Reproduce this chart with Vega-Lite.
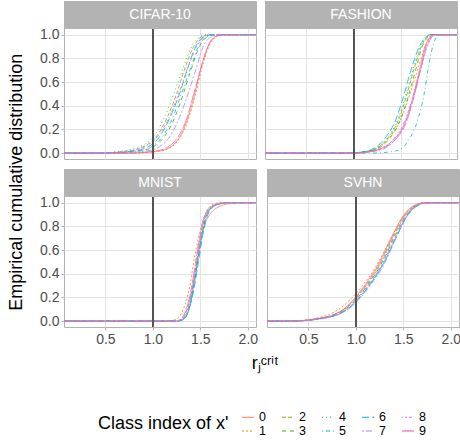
{
"$schema": "https://vega.github.io/schema/vega-lite/v6.json",
"padding": {"left": 8, "top": 0, "right": 0, "bottom": 0},
"title": {"text": "Empirical cumulative distribution", "orient": "left", "anchor": "middle", "fontSize": 18, "fontWeight": "normal", "color": "#000000", "font": "Liberation Sans", "offset": 13, "dx": 37},
"data": {"values": [
{"d":"CIFAR-10","c":"0","r":0,"p":0},{"d":"CIFAR-10","c":"0","r":0.75,"p":0},{"d":"CIFAR-10","c":"0","r":1.08,"p":0.02},{"d":"CIFAR-10","c":"0","r":1.25,"p":0.1},{"d":"CIFAR-10","c":"0","r":1.37,"p":0.3},{"d":"CIFAR-10","c":"0","r":1.44,"p":0.5},{"d":"CIFAR-10","c":"0","r":1.5,"p":0.7},{"d":"CIFAR-10","c":"0","r":1.58,"p":0.9},{"d":"CIFAR-10","c":"0","r":1.65,"p":0.98},{"d":"CIFAR-10","c":"0","r":1.73,"p":1},{"d":"CIFAR-10","c":"0","r":2.2,"p":1},
{"d":"CIFAR-10","c":"1","r":0,"p":0},{"d":"CIFAR-10","c":"1","r":0.78,"p":0},{"d":"CIFAR-10","c":"1","r":1.1,"p":0.02},{"d":"CIFAR-10","c":"1","r":1.26,"p":0.1},{"d":"CIFAR-10","c":"1","r":1.38,"p":0.3},{"d":"CIFAR-10","c":"1","r":1.45,"p":0.5},{"d":"CIFAR-10","c":"1","r":1.51,"p":0.7},{"d":"CIFAR-10","c":"1","r":1.59,"p":0.9},{"d":"CIFAR-10","c":"1","r":1.66,"p":0.98},{"d":"CIFAR-10","c":"1","r":1.74,"p":1},{"d":"CIFAR-10","c":"1","r":2.2,"p":1},
{"d":"CIFAR-10","c":"2","r":0,"p":0},{"d":"CIFAR-10","c":"2","r":0.4,"p":0},{"d":"CIFAR-10","c":"2","r":0.75,"p":0.02},{"d":"CIFAR-10","c":"2","r":0.99,"p":0.1},{"d":"CIFAR-10","c":"2","r":1.15,"p":0.3},{"d":"CIFAR-10","c":"2","r":1.25,"p":0.5},{"d":"CIFAR-10","c":"2","r":1.33,"p":0.7},{"d":"CIFAR-10","c":"2","r":1.43,"p":0.9},{"d":"CIFAR-10","c":"2","r":1.51,"p":0.98},{"d":"CIFAR-10","c":"2","r":1.6,"p":1},{"d":"CIFAR-10","c":"2","r":2.2,"p":1},
{"d":"CIFAR-10","c":"3","r":0,"p":0},{"d":"CIFAR-10","c":"3","r":0.5,"p":0},{"d":"CIFAR-10","c":"3","r":0.88,"p":0.02},{"d":"CIFAR-10","c":"3","r":1.08,"p":0.1},{"d":"CIFAR-10","c":"3","r":1.23,"p":0.3},{"d":"CIFAR-10","c":"3","r":1.32,"p":0.5},{"d":"CIFAR-10","c":"3","r":1.4,"p":0.7},{"d":"CIFAR-10","c":"3","r":1.49,"p":0.9},{"d":"CIFAR-10","c":"3","r":1.57,"p":0.98},{"d":"CIFAR-10","c":"3","r":1.66,"p":1},{"d":"CIFAR-10","c":"3","r":2.2,"p":1},
{"d":"CIFAR-10","c":"4","r":0,"p":0},{"d":"CIFAR-10","c":"4","r":0.35,"p":0},{"d":"CIFAR-10","c":"4","r":0.7,"p":0.02},{"d":"CIFAR-10","c":"4","r":0.96,"p":0.1},{"d":"CIFAR-10","c":"4","r":1.12,"p":0.3},{"d":"CIFAR-10","c":"4","r":1.22,"p":0.5},{"d":"CIFAR-10","c":"4","r":1.31,"p":0.7},{"d":"CIFAR-10","c":"4","r":1.41,"p":0.9},{"d":"CIFAR-10","c":"4","r":1.49,"p":0.98},{"d":"CIFAR-10","c":"4","r":1.57,"p":1},{"d":"CIFAR-10","c":"4","r":2.2,"p":1},
{"d":"CIFAR-10","c":"5","r":0,"p":0},{"d":"CIFAR-10","c":"5","r":0.5,"p":0},{"d":"CIFAR-10","c":"5","r":0.86,"p":0.02},{"d":"CIFAR-10","c":"5","r":1.06,"p":0.1},{"d":"CIFAR-10","c":"5","r":1.21,"p":0.3},{"d":"CIFAR-10","c":"5","r":1.3,"p":0.5},{"d":"CIFAR-10","c":"5","r":1.39,"p":0.7},{"d":"CIFAR-10","c":"5","r":1.48,"p":0.9},{"d":"CIFAR-10","c":"5","r":1.56,"p":0.98},{"d":"CIFAR-10","c":"5","r":1.66,"p":1},{"d":"CIFAR-10","c":"5","r":2.2,"p":1},
{"d":"CIFAR-10","c":"6","r":0,"p":0},{"d":"CIFAR-10","c":"6","r":0.45,"p":0},{"d":"CIFAR-10","c":"6","r":0.82,"p":0.02},{"d":"CIFAR-10","c":"6","r":1.03,"p":0.1},{"d":"CIFAR-10","c":"6","r":1.18,"p":0.3},{"d":"CIFAR-10","c":"6","r":1.28,"p":0.5},{"d":"CIFAR-10","c":"6","r":1.36,"p":0.7},{"d":"CIFAR-10","c":"6","r":1.45,"p":0.9},{"d":"CIFAR-10","c":"6","r":1.53,"p":0.98},{"d":"CIFAR-10","c":"6","r":1.62,"p":1},{"d":"CIFAR-10","c":"6","r":2.2,"p":1},
{"d":"CIFAR-10","c":"7","r":0,"p":0},{"d":"CIFAR-10","c":"7","r":0.6,"p":0},{"d":"CIFAR-10","c":"7","r":0.95,"p":0.02},{"d":"CIFAR-10","c":"7","r":1.14,"p":0.1},{"d":"CIFAR-10","c":"7","r":1.28,"p":0.3},{"d":"CIFAR-10","c":"7","r":1.37,"p":0.5},{"d":"CIFAR-10","c":"7","r":1.45,"p":0.7},{"d":"CIFAR-10","c":"7","r":1.53,"p":0.9},{"d":"CIFAR-10","c":"7","r":1.61,"p":0.98},{"d":"CIFAR-10","c":"7","r":1.7,"p":1},{"d":"CIFAR-10","c":"7","r":2.2,"p":1},
{"d":"CIFAR-10","c":"8","r":0,"p":0},{"d":"CIFAR-10","c":"8","r":0.4,"p":0},{"d":"CIFAR-10","c":"8","r":0.78,"p":0.02},{"d":"CIFAR-10","c":"8","r":1.0,"p":0.1},{"d":"CIFAR-10","c":"8","r":1.17,"p":0.3},{"d":"CIFAR-10","c":"8","r":1.27,"p":0.5},{"d":"CIFAR-10","c":"8","r":1.36,"p":0.7},{"d":"CIFAR-10","c":"8","r":1.46,"p":0.9},{"d":"CIFAR-10","c":"8","r":1.54,"p":0.98},{"d":"CIFAR-10","c":"8","r":1.63,"p":1},{"d":"CIFAR-10","c":"8","r":2.2,"p":1},
{"d":"CIFAR-10","c":"9","r":0,"p":0},{"d":"CIFAR-10","c":"9","r":0.7,"p":0},{"d":"CIFAR-10","c":"9","r":1.05,"p":0.02},{"d":"CIFAR-10","c":"9","r":1.23,"p":0.1},{"d":"CIFAR-10","c":"9","r":1.36,"p":0.3},{"d":"CIFAR-10","c":"9","r":1.43,"p":0.5},{"d":"CIFAR-10","c":"9","r":1.5,"p":0.7},{"d":"CIFAR-10","c":"9","r":1.58,"p":0.9},{"d":"CIFAR-10","c":"9","r":1.65,"p":0.98},{"d":"CIFAR-10","c":"9","r":1.73,"p":1},{"d":"CIFAR-10","c":"9","r":2.2,"p":1},
{"d":"FASHION","c":"0","r":0,"p":0},{"d":"FASHION","c":"0","r":1.0,"p":0},{"d":"FASHION","c":"0","r":1.2,"p":0.02},{"d":"FASHION","c":"0","r":1.4,"p":0.1},{"d":"FASHION","c":"0","r":1.56,"p":0.3},{"d":"FASHION","c":"0","r":1.63,"p":0.5},{"d":"FASHION","c":"0","r":1.69,"p":0.7},{"d":"FASHION","c":"0","r":1.75,"p":0.9},{"d":"FASHION","c":"0","r":1.8,"p":0.98},{"d":"FASHION","c":"0","r":1.83,"p":1},{"d":"FASHION","c":"0","r":2.2,"p":1},
{"d":"FASHION","c":"1","r":0,"p":0},{"d":"FASHION","c":"1","r":0.97,"p":0},{"d":"FASHION","c":"1","r":1.18,"p":0.02},{"d":"FASHION","c":"1","r":1.34,"p":0.1},{"d":"FASHION","c":"1","r":1.5,"p":0.3},{"d":"FASHION","c":"1","r":1.59,"p":0.5},{"d":"FASHION","c":"1","r":1.67,"p":0.7},{"d":"FASHION","c":"1","r":1.75,"p":0.9},{"d":"FASHION","c":"1","r":1.8,"p":0.98},{"d":"FASHION","c":"1","r":1.83,"p":1},{"d":"FASHION","c":"1","r":2.2,"p":1},
{"d":"FASHION","c":"2","r":0,"p":0},{"d":"FASHION","c":"2","r":0.95,"p":0},{"d":"FASHION","c":"2","r":1.17,"p":0.02},{"d":"FASHION","c":"2","r":1.33,"p":0.1},{"d":"FASHION","c":"2","r":1.48,"p":0.3},{"d":"FASHION","c":"2","r":1.56,"p":0.5},{"d":"FASHION","c":"2","r":1.63,"p":0.7},{"d":"FASHION","c":"2","r":1.71,"p":0.9},{"d":"FASHION","c":"2","r":1.77,"p":0.98},{"d":"FASHION","c":"2","r":1.81,"p":1},{"d":"FASHION","c":"2","r":2.2,"p":1},
{"d":"FASHION","c":"3","r":0,"p":0},{"d":"FASHION","c":"3","r":0.97,"p":0},{"d":"FASHION","c":"3","r":1.19,"p":0.02},{"d":"FASHION","c":"3","r":1.35,"p":0.1},{"d":"FASHION","c":"3","r":1.5,"p":0.3},{"d":"FASHION","c":"3","r":1.58,"p":0.5},{"d":"FASHION","c":"3","r":1.65,"p":0.7},{"d":"FASHION","c":"3","r":1.72,"p":0.9},{"d":"FASHION","c":"3","r":1.78,"p":0.98},{"d":"FASHION","c":"3","r":1.82,"p":1},{"d":"FASHION","c":"3","r":2.2,"p":1},
{"d":"FASHION","c":"4","r":0,"p":0},{"d":"FASHION","c":"4","r":0.95,"p":0},{"d":"FASHION","c":"4","r":1.16,"p":0.02},{"d":"FASHION","c":"4","r":1.32,"p":0.1},{"d":"FASHION","c":"4","r":1.47,"p":0.3},{"d":"FASHION","c":"4","r":1.55,"p":0.5},{"d":"FASHION","c":"4","r":1.62,"p":0.7},{"d":"FASHION","c":"4","r":1.7,"p":0.9},{"d":"FASHION","c":"4","r":1.77,"p":0.98},{"d":"FASHION","c":"4","r":1.81,"p":1},{"d":"FASHION","c":"4","r":2.2,"p":1},
{"d":"FASHION","c":"5","r":0,"p":0},{"d":"FASHION","c":"5","r":1.2,"p":0},{"d":"FASHION","c":"5","r":1.45,"p":0.02},{"d":"FASHION","c":"5","r":1.57,"p":0.1},{"d":"FASHION","c":"5","r":1.68,"p":0.3},{"d":"FASHION","c":"5","r":1.74,"p":0.5},{"d":"FASHION","c":"5","r":1.78,"p":0.7},{"d":"FASHION","c":"5","r":1.83,"p":0.9},{"d":"FASHION","c":"5","r":1.87,"p":0.98},{"d":"FASHION","c":"5","r":1.9,"p":1},{"d":"FASHION","c":"5","r":2.2,"p":1},
{"d":"FASHION","c":"6","r":0,"p":0},{"d":"FASHION","c":"6","r":0.95,"p":0},{"d":"FASHION","c":"6","r":1.15,"p":0.02},{"d":"FASHION","c":"6","r":1.3,"p":0.1},{"d":"FASHION","c":"6","r":1.45,"p":0.3},{"d":"FASHION","c":"6","r":1.53,"p":0.5},{"d":"FASHION","c":"6","r":1.6,"p":0.7},{"d":"FASHION","c":"6","r":1.69,"p":0.9},{"d":"FASHION","c":"6","r":1.76,"p":0.98},{"d":"FASHION","c":"6","r":1.8,"p":1},{"d":"FASHION","c":"6","r":2.2,"p":1},
{"d":"FASHION","c":"7","r":0,"p":0},{"d":"FASHION","c":"7","r":1.0,"p":0},{"d":"FASHION","c":"7","r":1.25,"p":0.02},{"d":"FASHION","c":"7","r":1.42,"p":0.1},{"d":"FASHION","c":"7","r":1.56,"p":0.3},{"d":"FASHION","c":"7","r":1.64,"p":0.5},{"d":"FASHION","c":"7","r":1.7,"p":0.7},{"d":"FASHION","c":"7","r":1.77,"p":0.9},{"d":"FASHION","c":"7","r":1.82,"p":0.98},{"d":"FASHION","c":"7","r":1.84,"p":1},{"d":"FASHION","c":"7","r":2.2,"p":1},
{"d":"FASHION","c":"8","r":0,"p":0},{"d":"FASHION","c":"8","r":1.0,"p":0},{"d":"FASHION","c":"8","r":1.22,"p":0.02},{"d":"FASHION","c":"8","r":1.4,"p":0.1},{"d":"FASHION","c":"8","r":1.55,"p":0.3},{"d":"FASHION","c":"8","r":1.63,"p":0.5},{"d":"FASHION","c":"8","r":1.7,"p":0.7},{"d":"FASHION","c":"8","r":1.77,"p":0.9},{"d":"FASHION","c":"8","r":1.82,"p":0.98},{"d":"FASHION","c":"8","r":1.85,"p":1},{"d":"FASHION","c":"8","r":2.2,"p":1},
{"d":"FASHION","c":"9","r":0,"p":0},{"d":"FASHION","c":"9","r":1.0,"p":0},{"d":"FASHION","c":"9","r":1.22,"p":0.02},{"d":"FASHION","c":"9","r":1.42,"p":0.1},{"d":"FASHION","c":"9","r":1.57,"p":0.3},{"d":"FASHION","c":"9","r":1.64,"p":0.5},{"d":"FASHION","c":"9","r":1.7,"p":0.7},{"d":"FASHION","c":"9","r":1.76,"p":0.9},{"d":"FASHION","c":"9","r":1.81,"p":0.98},{"d":"FASHION","c":"9","r":1.84,"p":1},{"d":"FASHION","c":"9","r":2.2,"p":1},
{"d":"MNIST","c":"0","r":0,"p":0},{"d":"MNIST","c":"0","r":1.25,"p":0},{"d":"MNIST","c":"0","r":1.33,"p":0.02},{"d":"MNIST","c":"0","r":1.38,"p":0.1},{"d":"MNIST","c":"0","r":1.43,"p":0.3},{"d":"MNIST","c":"0","r":1.47,"p":0.5},{"d":"MNIST","c":"0","r":1.51,"p":0.7},{"d":"MNIST","c":"0","r":1.6,"p":0.9},{"d":"MNIST","c":"0","r":1.74,"p":0.98},{"d":"MNIST","c":"0","r":1.88,"p":1},{"d":"MNIST","c":"0","r":2.2,"p":1},
{"d":"MNIST","c":"1","r":0,"p":0},{"d":"MNIST","c":"1","r":1.15,"p":0},{"d":"MNIST","c":"1","r":1.25,"p":0.02},{"d":"MNIST","c":"1","r":1.32,"p":0.1},{"d":"MNIST","c":"1","r":1.39,"p":0.3},{"d":"MNIST","c":"1","r":1.43,"p":0.5},{"d":"MNIST","c":"1","r":1.48,"p":0.7},{"d":"MNIST","c":"1","r":1.55,"p":0.9},{"d":"MNIST","c":"1","r":1.62,"p":0.98},{"d":"MNIST","c":"1","r":1.7,"p":1},{"d":"MNIST","c":"1","r":2.2,"p":1},
{"d":"MNIST","c":"2","r":0,"p":0},{"d":"MNIST","c":"2","r":1.24,"p":0},{"d":"MNIST","c":"2","r":1.31,"p":0.02},{"d":"MNIST","c":"2","r":1.36,"p":0.1},{"d":"MNIST","c":"2","r":1.42,"p":0.3},{"d":"MNIST","c":"2","r":1.46,"p":0.5},{"d":"MNIST","c":"2","r":1.5,"p":0.7},{"d":"MNIST","c":"2","r":1.56,"p":0.9},{"d":"MNIST","c":"2","r":1.65,"p":0.98},{"d":"MNIST","c":"2","r":1.77,"p":1},{"d":"MNIST","c":"2","r":2.2,"p":1},
{"d":"MNIST","c":"3","r":0,"p":0},{"d":"MNIST","c":"3","r":1.26,"p":0},{"d":"MNIST","c":"3","r":1.33,"p":0.02},{"d":"MNIST","c":"3","r":1.38,"p":0.1},{"d":"MNIST","c":"3","r":1.43,"p":0.3},{"d":"MNIST","c":"3","r":1.47,"p":0.5},{"d":"MNIST","c":"3","r":1.51,"p":0.7},{"d":"MNIST","c":"3","r":1.57,"p":0.9},{"d":"MNIST","c":"3","r":1.66,"p":0.98},{"d":"MNIST","c":"3","r":1.78,"p":1},{"d":"MNIST","c":"3","r":2.2,"p":1},
{"d":"MNIST","c":"4","r":0,"p":0},{"d":"MNIST","c":"4","r":1.26,"p":0},{"d":"MNIST","c":"4","r":1.33,"p":0.02},{"d":"MNIST","c":"4","r":1.38,"p":0.1},{"d":"MNIST","c":"4","r":1.43,"p":0.3},{"d":"MNIST","c":"4","r":1.47,"p":0.5},{"d":"MNIST","c":"4","r":1.51,"p":0.7},{"d":"MNIST","c":"4","r":1.57,"p":0.9},{"d":"MNIST","c":"4","r":1.66,"p":0.98},{"d":"MNIST","c":"4","r":1.79,"p":1},{"d":"MNIST","c":"4","r":2.2,"p":1},
{"d":"MNIST","c":"5","r":0,"p":0},{"d":"MNIST","c":"5","r":1.25,"p":0},{"d":"MNIST","c":"5","r":1.32,"p":0.02},{"d":"MNIST","c":"5","r":1.37,"p":0.1},{"d":"MNIST","c":"5","r":1.43,"p":0.3},{"d":"MNIST","c":"5","r":1.47,"p":0.5},{"d":"MNIST","c":"5","r":1.51,"p":0.7},{"d":"MNIST","c":"5","r":1.57,"p":0.9},{"d":"MNIST","c":"5","r":1.66,"p":0.98},{"d":"MNIST","c":"5","r":1.79,"p":1},{"d":"MNIST","c":"5","r":2.2,"p":1},
{"d":"MNIST","c":"6","r":0,"p":0},{"d":"MNIST","c":"6","r":1.26,"p":0},{"d":"MNIST","c":"6","r":1.33,"p":0.02},{"d":"MNIST","c":"6","r":1.38,"p":0.1},{"d":"MNIST","c":"6","r":1.44,"p":0.3},{"d":"MNIST","c":"6","r":1.48,"p":0.5},{"d":"MNIST","c":"6","r":1.52,"p":0.7},{"d":"MNIST","c":"6","r":1.58,"p":0.9},{"d":"MNIST","c":"6","r":1.67,"p":0.98},{"d":"MNIST","c":"6","r":1.8,"p":1},{"d":"MNIST","c":"6","r":2.2,"p":1},
{"d":"MNIST","c":"7","r":0,"p":0},{"d":"MNIST","c":"7","r":1.25,"p":0},{"d":"MNIST","c":"7","r":1.32,"p":0.02},{"d":"MNIST","c":"7","r":1.37,"p":0.1},{"d":"MNIST","c":"7","r":1.42,"p":0.3},{"d":"MNIST","c":"7","r":1.46,"p":0.5},{"d":"MNIST","c":"7","r":1.5,"p":0.7},{"d":"MNIST","c":"7","r":1.56,"p":0.9},{"d":"MNIST","c":"7","r":1.65,"p":0.98},{"d":"MNIST","c":"7","r":1.77,"p":1},{"d":"MNIST","c":"7","r":2.2,"p":1},
{"d":"MNIST","c":"8","r":0,"p":0},{"d":"MNIST","c":"8","r":1.24,"p":0},{"d":"MNIST","c":"8","r":1.31,"p":0.02},{"d":"MNIST","c":"8","r":1.36,"p":0.1},{"d":"MNIST","c":"8","r":1.42,"p":0.3},{"d":"MNIST","c":"8","r":1.46,"p":0.5},{"d":"MNIST","c":"8","r":1.5,"p":0.7},{"d":"MNIST","c":"8","r":1.56,"p":0.9},{"d":"MNIST","c":"8","r":1.65,"p":0.98},{"d":"MNIST","c":"8","r":1.78,"p":1},{"d":"MNIST","c":"8","r":2.2,"p":1},
{"d":"MNIST","c":"9","r":0,"p":0},{"d":"MNIST","c":"9","r":1.23,"p":0},{"d":"MNIST","c":"9","r":1.3,"p":0.02},{"d":"MNIST","c":"9","r":1.35,"p":0.1},{"d":"MNIST","c":"9","r":1.41,"p":0.3},{"d":"MNIST","c":"9","r":1.45,"p":0.5},{"d":"MNIST","c":"9","r":1.49,"p":0.7},{"d":"MNIST","c":"9","r":1.55,"p":0.9},{"d":"MNIST","c":"9","r":1.64,"p":0.98},{"d":"MNIST","c":"9","r":1.76,"p":1},{"d":"MNIST","c":"9","r":2.2,"p":1},
{"d":"SVHN","c":"0","r":0,"p":0},{"d":"SVHN","c":"0","r":0.3,"p":0},{"d":"SVHN","c":"0","r":0.6,"p":0.02},{"d":"SVHN","c":"0","r":0.87,"p":0.1},{"d":"SVHN","c":"0","r":1.09,"p":0.3},{"d":"SVHN","c":"0","r":1.25,"p":0.5},{"d":"SVHN","c":"0","r":1.37,"p":0.7},{"d":"SVHN","c":"0","r":1.51,"p":0.9},{"d":"SVHN","c":"0","r":1.62,"p":0.98},{"d":"SVHN","c":"0","r":1.73,"p":1},{"d":"SVHN","c":"0","r":2.2,"p":1},
{"d":"SVHN","c":"1","r":0,"p":0},{"d":"SVHN","c":"1","r":0.28,"p":0},{"d":"SVHN","c":"1","r":0.55,"p":0.02},{"d":"SVHN","c":"1","r":0.82,"p":0.1},{"d":"SVHN","c":"1","r":1.07,"p":0.3},{"d":"SVHN","c":"1","r":1.24,"p":0.5},{"d":"SVHN","c":"1","r":1.37,"p":0.7},{"d":"SVHN","c":"1","r":1.51,"p":0.9},{"d":"SVHN","c":"1","r":1.63,"p":0.98},{"d":"SVHN","c":"1","r":1.73,"p":1},{"d":"SVHN","c":"1","r":2.2,"p":1},
{"d":"SVHN","c":"2","r":0,"p":0},{"d":"SVHN","c":"2","r":0.3,"p":0},{"d":"SVHN","c":"2","r":0.6,"p":0.02},{"d":"SVHN","c":"2","r":0.88,"p":0.1},{"d":"SVHN","c":"2","r":1.11,"p":0.3},{"d":"SVHN","c":"2","r":1.27,"p":0.5},{"d":"SVHN","c":"2","r":1.39,"p":0.7},{"d":"SVHN","c":"2","r":1.53,"p":0.9},{"d":"SVHN","c":"2","r":1.64,"p":0.98},{"d":"SVHN","c":"2","r":1.74,"p":1},{"d":"SVHN","c":"2","r":2.2,"p":1},
{"d":"SVHN","c":"3","r":0,"p":0},{"d":"SVHN","c":"3","r":0.31,"p":0},{"d":"SVHN","c":"3","r":0.61,"p":0.02},{"d":"SVHN","c":"3","r":0.89,"p":0.1},{"d":"SVHN","c":"3","r":1.12,"p":0.3},{"d":"SVHN","c":"3","r":1.28,"p":0.5},{"d":"SVHN","c":"3","r":1.4,"p":0.7},{"d":"SVHN","c":"3","r":1.54,"p":0.9},{"d":"SVHN","c":"3","r":1.65,"p":0.98},{"d":"SVHN","c":"3","r":1.75,"p":1},{"d":"SVHN","c":"3","r":2.2,"p":1},
{"d":"SVHN","c":"4","r":0,"p":0},{"d":"SVHN","c":"4","r":0.31,"p":0},{"d":"SVHN","c":"4","r":0.62,"p":0.02},{"d":"SVHN","c":"4","r":0.9,"p":0.1},{"d":"SVHN","c":"4","r":1.13,"p":0.3},{"d":"SVHN","c":"4","r":1.29,"p":0.5},{"d":"SVHN","c":"4","r":1.41,"p":0.7},{"d":"SVHN","c":"4","r":1.54,"p":0.9},{"d":"SVHN","c":"4","r":1.65,"p":0.98},{"d":"SVHN","c":"4","r":1.75,"p":1},{"d":"SVHN","c":"4","r":2.2,"p":1},
{"d":"SVHN","c":"5","r":0,"p":0},{"d":"SVHN","c":"5","r":0.32,"p":0},{"d":"SVHN","c":"5","r":0.63,"p":0.02},{"d":"SVHN","c":"5","r":0.91,"p":0.1},{"d":"SVHN","c":"5","r":1.14,"p":0.3},{"d":"SVHN","c":"5","r":1.3,"p":0.5},{"d":"SVHN","c":"5","r":1.42,"p":0.7},{"d":"SVHN","c":"5","r":1.55,"p":0.9},{"d":"SVHN","c":"5","r":1.66,"p":0.98},{"d":"SVHN","c":"5","r":1.75,"p":1},{"d":"SVHN","c":"5","r":2.2,"p":1},
{"d":"SVHN","c":"6","r":0,"p":0},{"d":"SVHN","c":"6","r":0.32,"p":0},{"d":"SVHN","c":"6","r":0.63,"p":0.02},{"d":"SVHN","c":"6","r":0.91,"p":0.1},{"d":"SVHN","c":"6","r":1.14,"p":0.3},{"d":"SVHN","c":"6","r":1.3,"p":0.5},{"d":"SVHN","c":"6","r":1.42,"p":0.7},{"d":"SVHN","c":"6","r":1.55,"p":0.9},{"d":"SVHN","c":"6","r":1.66,"p":0.98},{"d":"SVHN","c":"6","r":1.76,"p":1},{"d":"SVHN","c":"6","r":2.2,"p":1},
{"d":"SVHN","c":"7","r":0,"p":0},{"d":"SVHN","c":"7","r":0.32,"p":0},{"d":"SVHN","c":"7","r":0.64,"p":0.02},{"d":"SVHN","c":"7","r":0.92,"p":0.1},{"d":"SVHN","c":"7","r":1.15,"p":0.3},{"d":"SVHN","c":"7","r":1.31,"p":0.5},{"d":"SVHN","c":"7","r":1.42,"p":0.7},{"d":"SVHN","c":"7","r":1.55,"p":0.9},{"d":"SVHN","c":"7","r":1.66,"p":0.98},{"d":"SVHN","c":"7","r":1.76,"p":1},{"d":"SVHN","c":"7","r":2.2,"p":1},
{"d":"SVHN","c":"8","r":0,"p":0},{"d":"SVHN","c":"8","r":0.31,"p":0},{"d":"SVHN","c":"8","r":0.62,"p":0.02},{"d":"SVHN","c":"8","r":0.9,"p":0.1},{"d":"SVHN","c":"8","r":1.13,"p":0.3},{"d":"SVHN","c":"8","r":1.29,"p":0.5},{"d":"SVHN","c":"8","r":1.41,"p":0.7},{"d":"SVHN","c":"8","r":1.54,"p":0.9},{"d":"SVHN","c":"8","r":1.65,"p":0.98},{"d":"SVHN","c":"8","r":1.75,"p":1},{"d":"SVHN","c":"8","r":2.2,"p":1},
{"d":"SVHN","c":"9","r":0,"p":0},{"d":"SVHN","c":"9","r":0.3,"p":0},{"d":"SVHN","c":"9","r":0.59,"p":0.02},{"d":"SVHN","c":"9","r":0.87,"p":0.1},{"d":"SVHN","c":"9","r":1.1,"p":0.3},{"d":"SVHN","c":"9","r":1.26,"p":0.5},{"d":"SVHN","c":"9","r":1.38,"p":0.7},{"d":"SVHN","c":"9","r":1.52,"p":0.9},{"d":"SVHN","c":"9","r":1.63,"p":0.98},{"d":"SVHN","c":"9","r":1.73,"p":1},{"d":"SVHN","c":"9","r":2.2,"p":1}
]},
"vconcat": [{
 "title": {"text": "rⱼᶜʳⁱᵗ", "orient": "bottom", "anchor": "middle", "fontSize": 18, "fontWeight": "normal", "color": "#000000", "font": "Liberation Sans", "offset": 8, "dx": 15},
 "spacing": 7,
 "vconcat": [
  {"spacing": 7, "hconcat": [
   {"width": 192, "height": 158, "transform": [{"filter": {"field": "d", "equal": "CIFAR-10"}}],
    "resolve": {"axis": {"x": "independent", "y": "independent"}},
    "layer": [
     {"mark": {"type": "line", "interpolate": "monotone", "clip": true, "strokeWidth": 0.8},
      "encoding": {
       "x": {"field": "r", "type": "quantitative", "scale": {"domain": [0.064, 2.086], "nice": false, "zero": false}, "axis": {"title": null, "values": [0.5, 1, 1.5, 2], "labels": false, "ticks": false}},
       "y": {"field": "p", "type": "quantitative", "scale": {"domain": [-0.05, 1.285], "nice": false, "zero": false}, "axis": {"title": null, "values": [0, 0.2, 0.4, 0.6, 0.8, 1], "format": ".1f"}},
       "color": {"field": "c", "type": "nominal", "title": "Class index of x'", "scale": {"domain": ["0","2","4","6","8","1","3","5","7","9"], "range": ["#F8766D","#A3A500","#00BF7D","#00B0F6","#E76BF3","#D89000","#39B600","#00BFC4","#9590FF","#FF62BC"]},
                 "legend": {"encode": {"symbols": {"update": {"strokeDash": {"scale": "strokeDash", "field": "value"}}}}}},
       "strokeDash": {"field": "c", "type": "nominal", "legend": null, "scale": {"domain": ["0","2","4","6","8","1","3","5","7","9"], "range": [[1,0],[4,2],[1,3],[7,3],[1,2,2,2,3,2,4,2],[2,2],[4,4],[1,3,4,3],[2,2,6,2],[15,2,8,2]]}}}},
     {"mark": {"type": "rule", "color": "#555555", "strokeWidth": 0.6},
      "encoding": {"x": {"datum": 1, "axis": {"orient": "top", "title": null, "values": [0.25, 0.75, 1.25, 1.75], "labels": false, "ticks": false, "gridColor": "#F0F0F0", "gridWidth": 0.6}},
                   "y": {"datum": -0.05, "axis": {"orient": "right", "title": null, "values": [0.1, 0.3, 0.5, 0.7, 0.9], "labels": false, "ticks": false, "gridColor": "#F0F0F0", "gridWidth": 0.6}},
                   "y2": {"datum": 1.05}}},
     {"mark": {"type": "rect", "color": "#B3B3B3"},
      "encoding": {"x": {"datum": 0.064, "axis": null}, "x2": {"datum": 2.086}, "y": {"datum": 1.051, "axis": null}, "y2": {"datum": 1.285}}},
     {"transform": [{"aggregate": [{"op": "count", "as": "n"}], "groupby": ["d"]}],
      "mark": {"type": "text", "color": "#FFFFFF", "fontSize": 14, "font": "Liberation Sans", "baseline": "middle", "align": "center"},
      "encoding": {"text": {"field": "d"}, "x": {"datum": 1.075, "axis": null}, "y": {"datum": 1.168, "axis": null}}}
    ]},
   {"width": 192, "height": 158, "transform": [{"filter": {"field": "d", "equal": "FASHION"}}],
    "resolve": {"axis": {"x": "independent", "y": "independent"}},
    "layer": [
     {"mark": {"type": "line", "interpolate": "monotone", "clip": true, "strokeWidth": 0.8},
      "encoding": {
       "x": {"field": "r", "type": "quantitative", "scale": {"domain": [0.064, 2.086], "nice": false, "zero": false}, "axis": {"title": null, "values": [0.5, 1, 1.5, 2], "labels": false, "ticks": false}},
       "y": {"field": "p", "type": "quantitative", "scale": {"domain": [-0.05, 1.285], "nice": false, "zero": false}, "axis": {"title": null, "values": [0, 0.2, 0.4, 0.6, 0.8, 1], "labels": false, "ticks": false}},
       "color": {"field": "c", "type": "nominal", "title": "Class index of x'", "scale": {"domain": ["0","2","4","6","8","1","3","5","7","9"], "range": ["#F8766D","#A3A500","#00BF7D","#00B0F6","#E76BF3","#D89000","#39B600","#00BFC4","#9590FF","#FF62BC"]},
                 "legend": {"encode": {"symbols": {"update": {"strokeDash": {"scale": "strokeDash", "field": "value"}}}}}},
       "strokeDash": {"field": "c", "type": "nominal", "legend": null, "scale": {"domain": ["0","2","4","6","8","1","3","5","7","9"], "range": [[1,0],[4,2],[1,3],[7,3],[1,2,2,2,3,2,4,2],[2,2],[4,4],[1,3,4,3],[2,2,6,2],[15,2,8,2]]}}}},
     {"mark": {"type": "rule", "color": "#555555", "strokeWidth": 0.6},
      "encoding": {"x": {"datum": 1, "axis": {"orient": "top", "title": null, "values": [0.25, 0.75, 1.25, 1.75], "labels": false, "ticks": false, "gridColor": "#F0F0F0", "gridWidth": 0.6}},
                   "y": {"datum": -0.05, "axis": {"orient": "right", "title": null, "values": [0.1, 0.3, 0.5, 0.7, 0.9], "labels": false, "ticks": false, "gridColor": "#F0F0F0", "gridWidth": 0.6}},
                   "y2": {"datum": 1.05}}},
     {"mark": {"type": "rect", "color": "#B3B3B3"},
      "encoding": {"x": {"datum": 0.064, "axis": null}, "x2": {"datum": 2.086}, "y": {"datum": 1.051, "axis": null}, "y2": {"datum": 1.285}}},
     {"transform": [{"aggregate": [{"op": "count", "as": "n"}], "groupby": ["d"]}],
      "mark": {"type": "text", "color": "#FFFFFF", "fontSize": 14, "font": "Liberation Sans", "baseline": "middle", "align": "center"},
      "encoding": {"text": {"field": "d"}, "x": {"datum": 1.075, "axis": null}, "y": {"datum": 1.168, "axis": null}}}
    ]}
  ]},
  {"spacing": 7, "hconcat": [
   {"width": 192, "height": 158, "transform": [{"filter": {"field": "d", "equal": "MNIST"}}],
    "resolve": {"axis": {"x": "independent", "y": "independent"}},
    "layer": [
     {"mark": {"type": "line", "interpolate": "monotone", "clip": true, "strokeWidth": 0.8},
      "encoding": {
       "x": {"field": "r", "type": "quantitative", "scale": {"domain": [0.064, 2.086], "nice": false, "zero": false}, "axis": {"title": null, "values": [0.5, 1, 1.5, 2], "format": ".1f", "labelFlush": false}},
       "y": {"field": "p", "type": "quantitative", "scale": {"domain": [-0.05, 1.285], "nice": false, "zero": false}, "axis": {"title": null, "values": [0, 0.2, 0.4, 0.6, 0.8, 1], "format": ".1f"}},
       "color": {"field": "c", "type": "nominal", "title": "Class index of x'", "scale": {"domain": ["0","2","4","6","8","1","3","5","7","9"], "range": ["#F8766D","#A3A500","#00BF7D","#00B0F6","#E76BF3","#D89000","#39B600","#00BFC4","#9590FF","#FF62BC"]},
                 "legend": {"encode": {"symbols": {"update": {"strokeDash": {"scale": "strokeDash", "field": "value"}}}}}},
       "strokeDash": {"field": "c", "type": "nominal", "legend": null, "scale": {"domain": ["0","2","4","6","8","1","3","5","7","9"], "range": [[1,0],[4,2],[1,3],[7,3],[1,2,2,2,3,2,4,2],[2,2],[4,4],[1,3,4,3],[2,2,6,2],[15,2,8,2]]}}}},
     {"mark": {"type": "rule", "color": "#555555", "strokeWidth": 0.6},
      "encoding": {"x": {"datum": 1, "axis": {"orient": "top", "title": null, "values": [0.25, 0.75, 1.25, 1.75], "labels": false, "ticks": false, "gridColor": "#F0F0F0", "gridWidth": 0.6}},
                   "y": {"datum": -0.05, "axis": {"orient": "right", "title": null, "values": [0.1, 0.3, 0.5, 0.7, 0.9], "labels": false, "ticks": false, "gridColor": "#F0F0F0", "gridWidth": 0.6}},
                   "y2": {"datum": 1.05}}},
     {"mark": {"type": "rect", "color": "#B3B3B3"},
      "encoding": {"x": {"datum": 0.064, "axis": null}, "x2": {"datum": 2.086}, "y": {"datum": 1.051, "axis": null}, "y2": {"datum": 1.285}}},
     {"transform": [{"aggregate": [{"op": "count", "as": "n"}], "groupby": ["d"]}],
      "mark": {"type": "text", "color": "#FFFFFF", "fontSize": 14, "font": "Liberation Sans", "baseline": "middle", "align": "center"},
      "encoding": {"text": {"field": "d"}, "x": {"datum": 1.075, "axis": null}, "y": {"datum": 1.168, "axis": null}}}
    ]},
   {"width": 192, "height": 158, "transform": [{"filter": {"field": "d", "equal": "SVHN"}}],
    "resolve": {"axis": {"x": "independent", "y": "independent"}},
    "layer": [
     {"mark": {"type": "line", "interpolate": "monotone", "clip": true, "strokeWidth": 0.8},
      "encoding": {
       "x": {"field": "r", "type": "quantitative", "scale": {"domain": [0.064, 2.086], "nice": false, "zero": false}, "axis": {"title": null, "values": [0.5, 1, 1.5, 2], "format": ".1f", "labelFlush": false}},
       "y": {"field": "p", "type": "quantitative", "scale": {"domain": [-0.05, 1.285], "nice": false, "zero": false}, "axis": {"title": null, "values": [0, 0.2, 0.4, 0.6, 0.8, 1], "labels": false, "ticks": false}},
       "color": {"field": "c", "type": "nominal", "title": "Class index of x'", "scale": {"domain": ["0","2","4","6","8","1","3","5","7","9"], "range": ["#F8766D","#A3A500","#00BF7D","#00B0F6","#E76BF3","#D89000","#39B600","#00BFC4","#9590FF","#FF62BC"]},
                 "legend": {"encode": {"symbols": {"update": {"strokeDash": {"scale": "strokeDash", "field": "value"}}}}}},
       "strokeDash": {"field": "c", "type": "nominal", "legend": null, "scale": {"domain": ["0","2","4","6","8","1","3","5","7","9"], "range": [[1,0],[4,2],[1,3],[7,3],[1,2,2,2,3,2,4,2],[2,2],[4,4],[1,3,4,3],[2,2,6,2],[15,2,8,2]]}}}},
     {"mark": {"type": "rule", "color": "#555555", "strokeWidth": 0.6},
      "encoding": {"x": {"datum": 1, "axis": {"orient": "top", "title": null, "values": [0.25, 0.75, 1.25, 1.75], "labels": false, "ticks": false, "gridColor": "#F0F0F0", "gridWidth": 0.6}},
                   "y": {"datum": -0.05, "axis": {"orient": "right", "title": null, "values": [0.1, 0.3, 0.5, 0.7, 0.9], "labels": false, "ticks": false, "gridColor": "#F0F0F0", "gridWidth": 0.6}},
                   "y2": {"datum": 1.05}}},
     {"mark": {"type": "rect", "color": "#B3B3B3"},
      "encoding": {"x": {"datum": 0.064, "axis": null}, "x2": {"datum": 2.086}, "y": {"datum": 1.051, "axis": null}, "y2": {"datum": 1.285}}},
     {"transform": [{"aggregate": [{"op": "count", "as": "n"}], "groupby": ["d"]}],
      "mark": {"type": "text", "color": "#FFFFFF", "fontSize": 14, "font": "Liberation Sans", "baseline": "middle", "align": "center"},
      "encoding": {"text": {"field": "d"}, "x": {"datum": 1.075, "axis": null}, "y": {"datum": 1.168, "axis": null}}}
    ]}
  ]}
 ]
}],
"config": {
  "font": "Liberation Sans",
  "view": {"stroke": "#B3B3B3", "strokeWidth": 1},
  "axis": {"domain": false, "tickColor": "#B3B3B3", "tickSize": 3, "labelFontSize": 14, "labelColor": "#4D4D4D", "labelPadding": 2, "labelFont": "Liberation Sans", "labelOverlap": false, "gridColor": "#E3E3E3", "gridWidth": 1},
  "legend": {"orient": "none", "legendX": 34, "legendY": 409, "direction": "horizontal", "columns": 5,
             "titleOrient": "left", "titleFontSize": 18, "titleFontWeight": "normal", "titleColor": "#000000", "titleFont": "Liberation Sans",
             "titleBaseline": "middle", "titlePadding": 12,
             "labelFontSize": 12.5, "labelColor": "#000000", "labelFont": "Liberation Sans",
             "symbolType": "stroke", "symbolSize": 144, "symbolStrokeWidth": 1.2, "columnPadding": 13, "rowPadding": 0}
}
}
